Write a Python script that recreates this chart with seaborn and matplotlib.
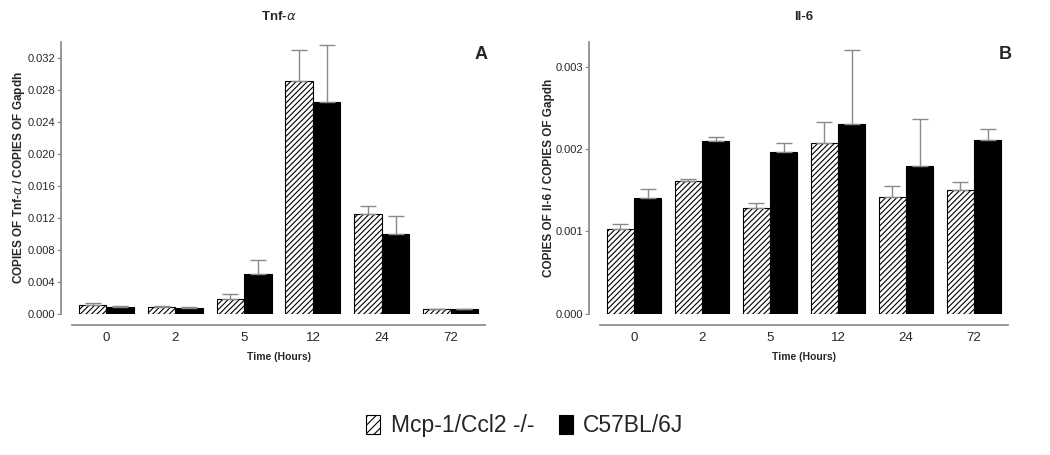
import pandas as pd
import matplotlib.pyplot as plt
import seaborn as sns
from matplotlib.patches import Patch

# Time points (hours) and strains
hours = ["0", "2", "5", "12", "24", "72"]
strains = ["Mcp-1/Ccl2 -/-", "C57BL/6J"]

# Panel A: Tnf-alpha / Gapdh
tnf_ko = [0.00109, 0.00088, 0.00188, 0.02908, 0.01249, 0.00058]
tnf_ko_err = [0.00025, 0.00008, 0.00058, 0.00388, 0.00105, 0.00004]
tnf_wt = [0.00088, 0.00080, 0.00497, 0.02644, 0.00998, 0.00063]
tnf_wt_err = [0.00016, 0.00008, 0.00171, 0.00719, 0.00222, 0.00004]

# Panel B: Il-6 / Gapdh
il6_ko = [0.001036, 0.001609, 0.001290, 0.002069, 0.001423, 0.001508]
il6_ko_err = [0.000049, 0.000024, 0.000057, 0.000261, 0.000133, 0.000089]
il6_wt = [0.001411, 0.002101, 0.001968, 0.002298, 0.001794, 0.002109]
il6_wt_err = [0.000109, 0.000044, 0.000109, 0.000908, 0.000573, 0.000129]

sns.set_theme(style="white")
plt.rcParams["font.family"] = ["Liberation Sans", "DejaVu Sans"]
plt.rcParams["hatch.linewidth"] = 0.8


def make_frame(ko, wt):
    return pd.DataFrame({
        "hour": hours * 2,
        "value": ko + wt,
        "strain": [strains[0]] * len(hours) + [strains[1]] * len(hours),
    })


def draw_panel(ax, ko, ko_err, wt, wt_err, ymax, yticks, title, ylabel, letter, lx):
    df = make_frame(ko, wt)
    sns.barplot(data=df, x="hour", y="value", hue="strain", order=hours,
                hue_order=strains, palette=["white", "black"], errorbar=None,
                edgecolor="black", linewidth=0.8, width=0.8, legend=False, ax=ax)
    # hatch the knockout bars and add upper error bars
    for container, errs in zip(ax.containers, [ko_err, wt_err]):
        xs, tops = [], []
        for bar in container:
            xs.append(bar.get_x() + bar.get_width() / 2)
            tops.append(bar.get_height())
        ax.errorbar(xs, tops, yerr=[[0] * len(errs), errs], fmt="none",
                    ecolor="#8a8a8a", elinewidth=1.0, capsize=6, capthick=1.0, zorder=1)
    for bar in ax.containers[0]:
        bar.set_hatch("//////")

    ax.set_xlim(-0.5, len(hours) - 0.5)
    ax.set_ylim(0, ymax)
    ax.set_yticks(yticks)
    ax.set_yticklabels(["{:.3f}".format(t) for t in yticks])
    ax.spines["top"].set_visible(False)
    ax.spines["right"].set_visible(False)
    ax.spines["left"].set_position(("outward", 8))
    ax.spines["bottom"].set_position(("outward", 8))
    ax.spines["left"].set_color("#8a8a8a")
    ax.spines["bottom"].set_color("#8a8a8a")
    ax.tick_params(axis="y", left=True, length=3, width=0.8, color="#8a8a8a",
                   pad=1, labelsize=8)
    ax.tick_params(axis="x", bottom=False, length=0, pad=5, labelsize=9.5)
    ax.set_xlabel("Time (Hours)", fontsize=7.5, fontweight="bold", labelpad=6)
    ax.set_ylabel(ylabel, fontsize=8.5, fontweight="bold", labelpad=0.5)
    ax.set_title(title, fontsize=9.5, fontweight="bold", pad=16)
    ax.text(lx, 0.955, letter, transform=ax.transAxes, ha="center", va="center",
            fontsize=13, fontweight="bold")


fig = plt.figure(figsize=(10.5, 4.55), dpi=100)
ax_a = fig.add_axes([0.0686, 0.31, 0.3933, 0.598])
ax_b = fig.add_axes([0.5714, 0.31, 0.3886, 0.598])

draw_panel(ax_a, tnf_ko, tnf_ko_err, tnf_wt, tnf_wt_err, 0.034,
           [0, 0.004, 0.008, 0.012, 0.016, 0.020, 0.024, 0.028, 0.032],
           r"Tnf-$\alpha$", r"COPIES OF Tnf-$\alpha$ / COPIES OF Gapdh", "A", 0.99)
draw_panel(ax_b, il6_ko, il6_ko_err, il6_wt, il6_wt_err, 0.0033,
           [0, 0.001, 0.002, 0.003],
           "Il-6", "COPIES OF Il-6 / COPIES OF Gapdh", "B", 0.993)

handles = [Patch(facecolor="white", edgecolor="black", hatch="////", linewidth=0.8),
           Patch(facecolor="black", edgecolor="black", linewidth=0.8)]
fig.legend(handles, strains, loc="center", bbox_to_anchor=(0.5, 0.064), ncol=2,
           frameon=False, fontsize=16.5, handlelength=0.6,
           handleheight=0.9, handletextpad=0.45, columnspacing=1.1)

fig.savefig("out.png", dpi=100)
